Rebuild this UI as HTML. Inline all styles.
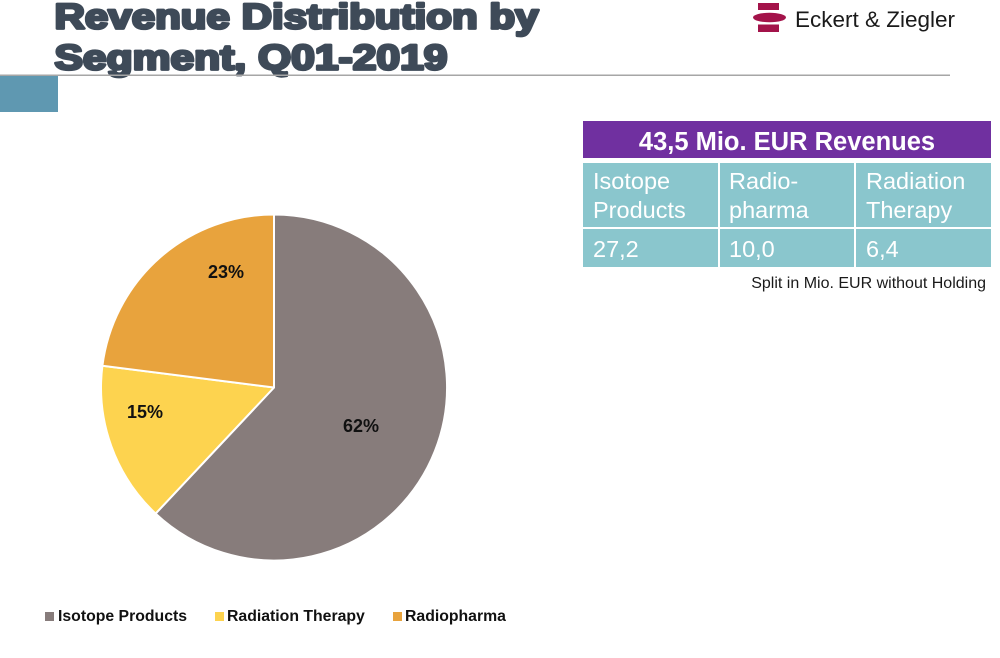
<!DOCTYPE html>
<html>
<head>
<meta charset="utf-8">
<style>
  html, body { margin: 0; padding: 0; background: #ffffff; }
  body { width: 1000px; height: 658px; overflow: hidden; position: relative; }
  svg { position: absolute; left: 0; top: 0; }
  text { font-family: "Liberation Sans", Arial, sans-serif; }
</style>
</head>
<body>
<svg width="1000" height="658" viewBox="0 0 1000 658" xmlns="http://www.w3.org/2000/svg">
  <!-- title -->
  <g font-size="35" font-weight="bold" fill="#3e4a58" stroke="#3e4a58" stroke-width="2.8" stroke-linejoin="round">
    <text x="54.5" y="28.5" textLength="484" lengthAdjust="spacingAndGlyphs">Revenue Distribution by</text>
    <text x="54.5" y="69.5" textLength="393" lengthAdjust="spacingAndGlyphs">Segment, Q01-2019</text>
  </g>

  <!-- divider line and blue block -->
  <rect x="0" y="74.5" width="950" height="1.5" fill="#a6a6a6"/>
  <rect x="0" y="76" width="58" height="36" fill="#5f98b1"/>

  <!-- logo -->
  <rect x="758" y="3" width="21" height="7" fill="#a3134a"/>
  <ellipse cx="769.5" cy="17.5" rx="16.5" ry="4.8" fill="#a3134a"/>
  <rect x="758" y="24.5" width="21" height="7.5" fill="#a3134a"/>
  <text x="795" y="27" font-size="22.5" fill="#1a1a1a" textLength="160" lengthAdjust="spacingAndGlyphs">Eckert &amp; Ziegler</text>

  <!-- table -->
  <rect x="583" y="121" width="408" height="37" fill="#7030a0"/>
  <text x="787" y="150" font-size="25.5" font-weight="bold" fill="#ffffff" text-anchor="middle">43,5 Mio. EUR Revenues</text>

  <rect x="583" y="163" width="135" height="64" fill="#8ac6cd"/>
  <rect x="720" y="163" width="134" height="64" fill="#8ac6cd"/>
  <rect x="856" y="163" width="135" height="64" fill="#8ac6cd"/>
  <rect x="583" y="229" width="135" height="38" fill="#8ac6cd"/>
  <rect x="720" y="229" width="134" height="38" fill="#8ac6cd"/>
  <rect x="856" y="229" width="135" height="38" fill="#8ac6cd"/>

  <g font-size="23.5" fill="#ffffff">
    <text x="593" y="189">Isotope</text>
    <text x="593" y="218">Products</text>
    <text x="729" y="189">Radio-</text>
    <text x="729" y="218">pharma</text>
    <text x="866" y="189">Radiation</text>
    <text x="866" y="218">Therapy</text>
    <text x="593" y="257">27,2</text>
    <text x="729" y="257">10,0</text>
    <text x="866" y="257">6,4</text>
  </g>
  <text x="986" y="288" font-size="16" fill="#1a1a1a" text-anchor="end">Split in Mio. EUR without Holding</text>

  <!-- pie -->
  <g stroke="#ffffff" stroke-width="2" stroke-linejoin="round">
    <path d="M274,387.5 L274,214.5 A173,173 0 1,1 155.6,513.6 Z" fill="#877c7b"/>
    <path d="M274,387.5 L155.6,513.6 A173,173 0 0,1 102.4,365.8 Z" fill="#fdd34f"/>
    <path d="M274,387.5 L102.4,365.8 A173,173 0 0,1 274,214.5 Z" fill="#e8a33d"/>
  </g>
  <g font-size="18" font-weight="bold" fill="#111111" text-anchor="middle">
    <text x="226" y="278">23%</text>
    <text x="145" y="418">15%</text>
    <text x="361" y="432">62%</text>
  </g>

  <!-- legend -->
  <rect x="45" y="612" width="9" height="9" fill="#877c7b"/>
  <text x="58" y="621" font-size="15.8" font-weight="bold" fill="#111111">Isotope Products</text>
  <rect x="215" y="612" width="9" height="9" fill="#fdd34f"/>
  <text x="227" y="621" font-size="15.8" font-weight="bold" fill="#111111">Radiation Therapy</text>
  <rect x="393" y="612" width="9" height="9" fill="#e8a33d"/>
  <text x="405" y="621" font-size="15.8" font-weight="bold" fill="#111111">Radiopharma</text>
</svg>
</body>
</html>
